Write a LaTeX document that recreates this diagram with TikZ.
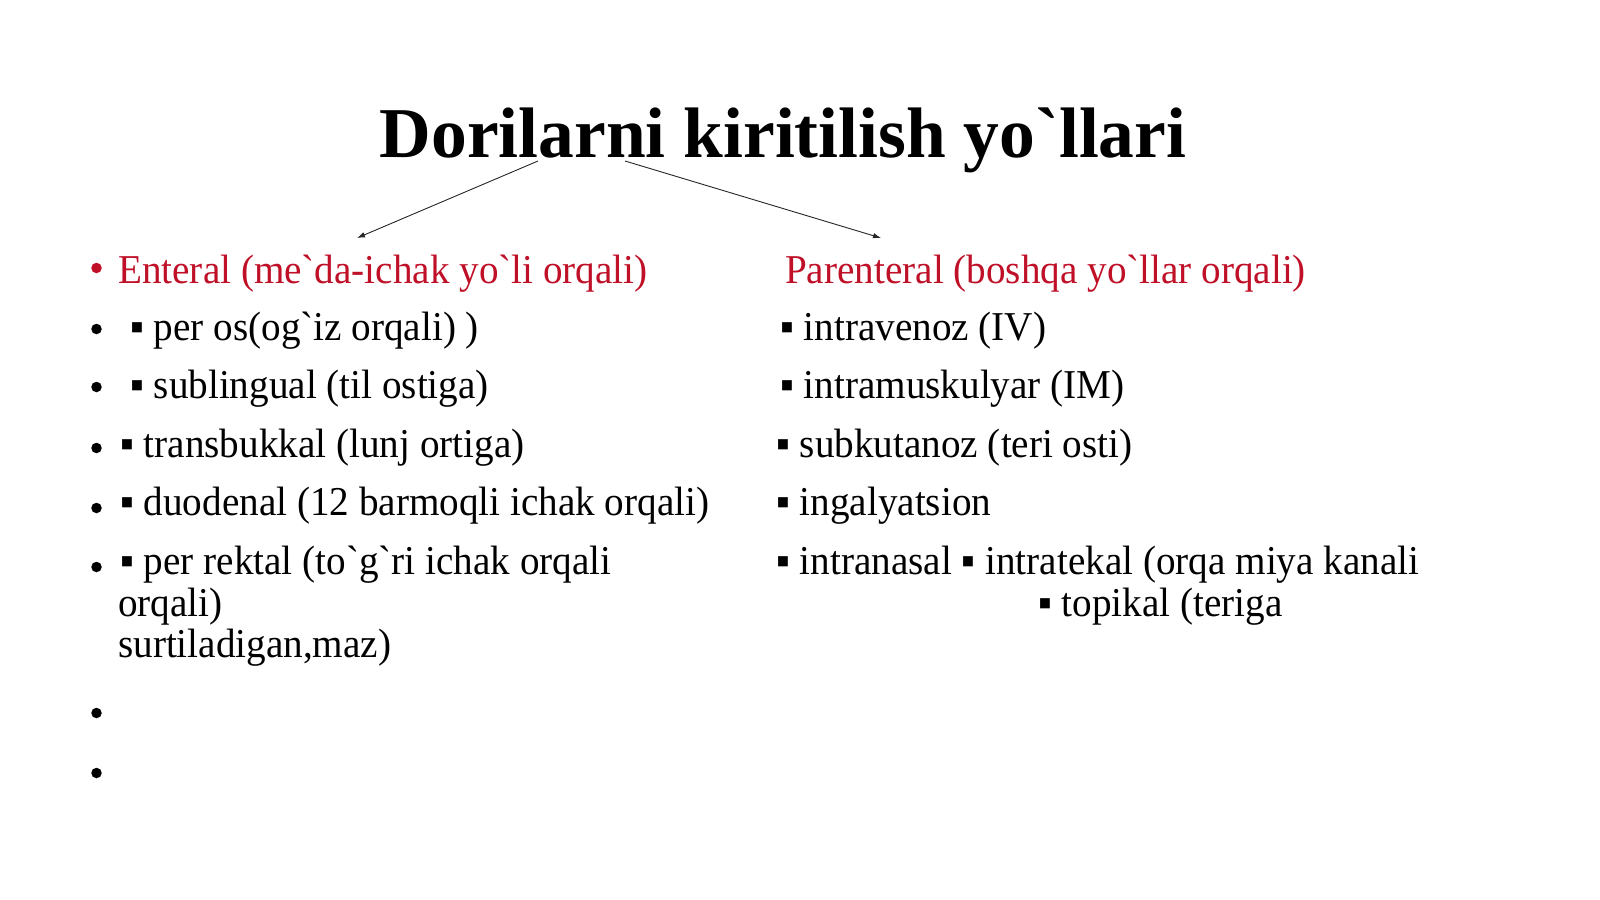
\documentclass[tikz,border=0pt]{standalone}
\usepackage{fontspec}
\newfontfamily\bodyfont{Liberation Serif}[FakeStretch=0.955]
\newfontfamily\titlefont{Liberation Serif}
\usetikzlibrary{arrows.meta}
\definecolor{hdred}{RGB}{192,16,40}
\tikzset{
  txt/.style={anchor=base west, inner sep=0pt, font=\bodyfont\fontsize{41}{42}\selectfont},
  hd/.style={txt, text=hdred},
  dot/.style={circle, fill=black, inner sep=0pt, minimum size=10.5pt},
  ttl/.style={anchor=base, inner sep=0pt, font=\titlefont\fontsize{71.5}{86}\selectfont\bfseries},
  conn/.style={draw=black!85, line width=0.9pt, -{Latex[length=8pt,width=5.5pt]}}
}
\begin{document}
\begin{tikzpicture}[x=1pt,y=-1pt]
\fill[white] (0,0) rectangle (1600,899);
\useasboundingbox (0,0) rectangle (1600,899);
% title
\node[ttl] (title) at (783,157) {Dorilarni kiritilish yo`llari};
\coordinate (l1) at (538,161);
\coordinate (r1) at (625,161);
\coordinate (l2) at (357,238);
\coordinate (r2) at (881,238);
\draw[conn] (l1) -- (l2);
\draw[conn] (r1) -- (r2);
% left column bullets
\node[dot, fill=hdred] (b1) at (96.5,268) {};
\node[dot] (b2) at (96.5,329) {};
\node[dot] (b3) at (96.5,387) {};
\node[dot] (b4) at (96.5,448) {};
\node[dot] (b5) at (96.5,508) {};
\node[dot] (b6) at (96.5,567) {};
\node[dot] (b7) at (96.5,713) {};
\node[dot] (b8) at (96.5,773) {};
% left column text
\node[hd] (enteral) at (118,283) {Enteral (me`da-ichak yo`li orqali)};
\node[txt] (l2t) at (130,340) {▪ per os(og`iz orqali) )};
\node[txt] (l3t) at (130,398) {▪ sublingual (til ostiga)};
\node[txt] (l4t) at (120,457) {▪ transbukkal (lunj ortiga)};
\node[txt] (l5t) at (120,515) {▪ duodenal (12 barmoqli ichak orqali)};
\node[txt] (l6t) at (120,574) {▪ per rektal (to`g`ri ichak orqali};
\node[txt] (l6b) at (118,616) {orqali)};
\node[txt] (l6c) at (118,657) {surtiladigan,maz)};
% right column
\node[hd] (parent) at (785,283) {Parenteral (boshqa yo`llar orqali)};
\node[txt] (r2t) at (780,340) {▪ intravenoz (IV)};
\node[txt] (r3t) at (780,398) {▪ intramuskulyar (IM)};
\node[txt] (r4t) at (776,457) {▪ subkutanoz (teri osti)};
\node[txt] (r5t) at (776,515) {▪ ingalyatsion};
\node[txt] (r6t) at (776,574) {▪ intranasal ▪ intratekal (orqa miya kanali};
\node[txt] (r7t) at (1038,616) {▪ topikal (teriga};
\end{tikzpicture}
\end{document}
